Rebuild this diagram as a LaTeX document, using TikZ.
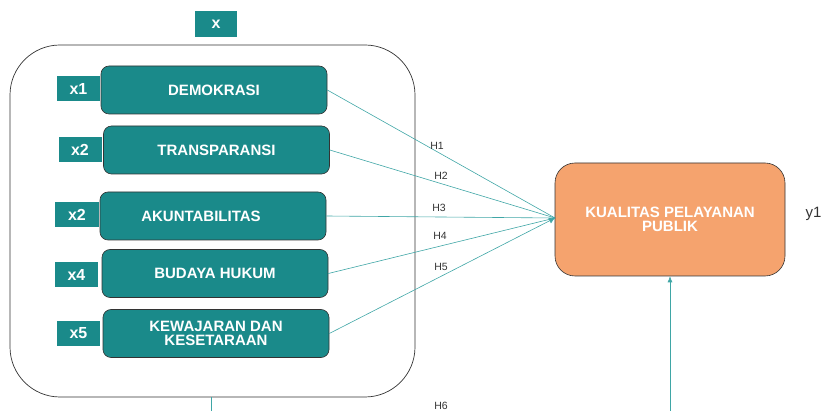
\documentclass[tikz,border=0pt]{standalone}
\usepackage{fontspec}
\setmainfont{Liberation Sans}
\usetikzlibrary{arrows.meta}
\definecolor{teal1}{HTML}{1A8A8A}
\definecolor{tealline}{HTML}{3FA6A6}
\definecolor{orange1}{HTML}{F5A36E}
\definecolor{txtgray}{HTML}{333333}
\tikzset{
  varbox/.style={draw=black!80, fill=teal1, rounded corners=8pt, minimum width=226pt, minimum height=48pt, text=white, font=\fontsize{15}{14}\selectfont\bfseries, align=center, inner sep=0pt, line width=0.6pt},
  tag/.style={fill=teal1, text=white, font=\fontsize{16}{16}\selectfont\bfseries, minimum width=43pt, minimum height=25pt, inner sep=0pt},
  hyp/.style={font=\fontsize{10.5}{11}\selectfont, text=txtgray},
  conn/.style={draw=tealline, line width=0.6pt},
}
\begin{document}
\begin{tikzpicture}[x=1pt,y=-1pt]
\useasboundingbox (0,0) rectangle (822,411);
% outer group
\node[draw=black!80, line width=0.7pt, rounded corners=50pt, minimum width=405pt, minimum height=352pt, inner sep=0pt] (grp) at (212.5,221) {};
\node[tag, minimum width=42pt, minimum height=26pt] (xt) at (216,24) {x};
% variable boxes
\node[varbox] (d1) at (214,90) {DEMOKRASI};
\node[varbox] (d2) at (216.5,150) {TRANSPARANSI};
\node[varbox] (d3) at (213,216) {\hspace*{-24pt}AKUNTABILITAS};
\node[varbox] (d4) at (215,273.5) {BUDAYA HUKUM};
\node[varbox] (d5) at (216,333.5) {KEWAJARAN DAN\\KESETARAAN};
% tags
\node[tag] (t1) at (78.5,88.5) {x1};
\node[tag] (t2) at (80,149.5) {x2};
\node[tag, minimum width=44pt] (t3) at (77,215) {x2};
\node[tag] (t4) at (76.5,275) {x4};
\node[tag] (t5) at (78.5,333.5) {x5};
% target
\node[draw=black!80, fill=orange1, line width=0.6pt, rounded corners=20pt, minimum width=230pt, minimum height=113pt, inner sep=0pt] (y) at (670,219.5) {};
\node[text=white, font=\fontsize{15}{14}\selectfont\bfseries, align=center] (ytxt) at (670,219) {KUALITAS PELAYANAN\\PUBLIK};
\node[font=\fontsize{15}{15}\selectfont, text=txtgray, anchor=west] (ylab) at (802,214) {y1};
\coordinate (conv) at (555,218);
% connectors
\draw[conn] (d1.east) -- (conv);
\draw[conn] (d2.east) -- (conv);
\draw[conn] (d3.east) -- (conv);
\draw[conn] (d4.east) -- (conv);
\draw[conn, -{Latex[length=6pt,width=6pt]}] (d5.east) -- (conv);
\node[hyp] (h1) at (437,146) {H1};
\node[hyp] (h2) at (441,176) {H2};
\node[hyp] (h3) at (439,208) {H3};
\node[hyp] (h4) at (440,236) {H4};
\node[hyp] (h5) at (441,267) {H5};
\node[hyp] (h6) at (441,406) {H6};
\coordinate (gb) at (211,415);
\coordinate (yb) at (670,415);
\draw[conn] (grp.south -| gb) -- (gb);
\draw[conn, -{Latex[length=6pt,width=5pt]}] (yb) -- (y.south);
\end{tikzpicture}
\end{document}
